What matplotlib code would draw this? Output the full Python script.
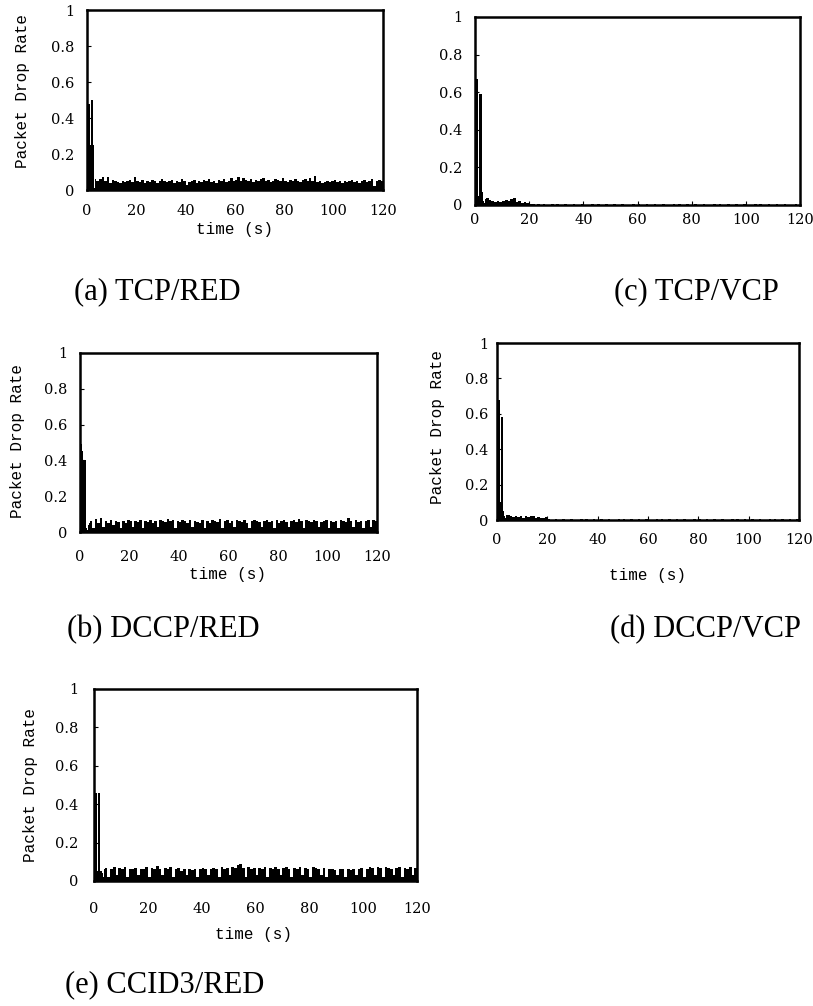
import numpy as np
import matplotlib
matplotlib.use("Agg")
import matplotlib.pyplot as plt

# time grid: finer steps during the start-up burst, then one value per second
t_head = [0, 0.4, 0.8, 1.2, 1.6, 2.0, 2.4, 2.8, 3.2, 3.6]
t_body = list(range(4, 120))

# (a) TCP/RED
tcp_red_head = [0.25, 0.48, 0.48, 0.25, 0.50, 0.50, 0.25, 0.01, 0.06, 0.05]
tcp_red_body = [
    0.05, 0.06, 0.075, 0.05, 0.07, 0.04, 0.055, 0.05, 0.045, 0.04,
    0.05, 0.045, 0.05, 0.055, 0.045, 0.07, 0.05, 0.045, 0.055, 0.04,
    0.05, 0.045, 0.055, 0.05, 0.04, 0.05, 0.06, 0.05, 0.045, 0.05,
    0.055, 0.04, 0.05, 0.045, 0.06, 0.05, 0.03, 0.045, 0.05, 0.055,
    0.04, 0.05, 0.045, 0.055, 0.05, 0.06, 0.045, 0.05, 0.04, 0.055,
    0.05, 0.06, 0.045, 0.05, 0.065, 0.05, 0.055, 0.07, 0.05, 0.065,
    0.055, 0.05, 0.06, 0.045, 0.055, 0.05, 0.06, 0.065, 0.05, 0.055,
    0.045, 0.05, 0.06, 0.055, 0.05, 0.065, 0.05, 0.045, 0.055, 0.05,
    0.06, 0.05, 0.045, 0.055, 0.06, 0.05, 0.065, 0.05, 0.08, 0.045,
    0.05, 0.04, 0.045, 0.05, 0.045, 0.05, 0.055, 0.045, 0.05, 0.04,
    0.05, 0.045, 0.05, 0.055, 0.045, 0.05, 0.04, 0.05, 0.055, 0.045,
    0.05, 0.06, 0.02, 0.05, 0.055, 0.05]

# (b) DCCP/RED
dccp_red_head = [0.49, 0.49, 0.45, 0.40, 0.40, 0.40, 0.02, 0.01, 0.04, 0.05]
dccp_red_body = [
    0.06, 0.02, 0.07, 0.05, 0.08, 0.03, 0.06, 0.05, 0.065, 0.04,
    0.06, 0.055, 0.02, 0.06, 0.05, 0.065, 0.06, 0.03, 0.06, 0.055,
    0.065, 0.02, 0.06, 0.055, 0.065, 0.05, 0.06, 0.03, 0.065, 0.06,
    0.055, 0.07, 0.06, 0.065, 0.02, 0.06, 0.055, 0.065, 0.06, 0.05,
    0.065, 0.03, 0.06, 0.055, 0.05, 0.065, 0.02, 0.06, 0.05, 0.065,
    0.06, 0.055, 0.07, 0.02, 0.06, 0.065, 0.05, 0.06, 0.03, 0.065,
    0.06, 0.055, 0.065, 0.05, 0.02, 0.06, 0.065, 0.06, 0.055, 0.03,
    0.06, 0.065, 0.055, 0.06, 0.02, 0.065, 0.05, 0.06, 0.065, 0.055,
    0.03, 0.06, 0.065, 0.055, 0.07, 0.06, 0.02, 0.065, 0.06, 0.055,
    0.065, 0.06, 0.03, 0.055, 0.06, 0.065, 0.02, 0.06, 0.055, 0.06,
    0.02, 0.065, 0.06, 0.055, 0.08, 0.06, 0.03, 0.065, 0.055, 0.06,
    0.02, 0.06, 0.065, 0.03, 0.065, 0.06]

# (c) TCP/VCP
tcp_vcp_head = [0.67, 0.67, 0.67, 0.05, 0.59, 0.59, 0.07, 0.02, 0.01, 0.03]
tcp_vcp_body = [
    0.035, 0.025, 0.02, 0.015, 0.02, 0.015, 0.02, 0.025, 0.02, 0.03,
    0.035, 0.015, 0.02, 0.01, 0.015, 0.01, 0.004, 0.003, 0.002, 0.003,
    0.002, 0.003, 0.002, 0.002, 0.003, 0.002, 0.003, 0.002, 0.002, 0.003,
    0.002, 0.002, 0.003, 0.002, 0.002, 0.003, 0.002, 0.002, 0.002, 0.003,
    0.002, 0.003, 0.002, 0.002, 0.003, 0.002, 0.002, 0.003, 0.002, 0.002,
    0.003, 0.002, 0.002, 0.002, 0.003, 0.002, 0.003, 0.002, 0.002, 0.003,
    0.002, 0.002, 0.003, 0.002, 0.002, 0.003, 0.002, 0.002, 0.002, 0.003,
    0.002, 0.003, 0.002, 0.002, 0.003, 0.002, 0.002, 0.003, 0.002, 0.002,
    0.003, 0.002, 0.002, 0.002, 0.003, 0.002, 0.003, 0.002, 0.002, 0.003,
    0.002, 0.002, 0.003, 0.002, 0.002, 0.003, 0.002, 0.002, 0.002, 0.003,
    0.002, 0.003, 0.002, 0.002, 0.003, 0.002, 0.002, 0.003, 0.002, 0.002,
    0.003, 0.002, 0.002, 0.002, 0.003, 0.002]

# (d) DCCP/VCP
dccp_vcp_head = [0.50, 0.68, 0.68, 0.10, 0.58, 0.58, 0.05, 0.02, 0.01, 0.03]
dccp_vcp_body = [
    0.03, 0.025, 0.015, 0.02, 0.015, 0.02, 0.01, 0.02, 0.015, 0.02,
    0.025, 0.01, 0.015, 0.01, 0.01, 0.015, 0.003, 0.002, 0.002, 0.003,
    0.002, 0.002, 0.003, 0.002, 0.002, 0.003, 0.002, 0.002, 0.002, 0.003,
    0.002, 0.003, 0.002, 0.002, 0.003, 0.002, 0.002, 0.003, 0.002, 0.002,
    0.003, 0.002, 0.002, 0.002, 0.003, 0.002, 0.003, 0.002, 0.002, 0.003,
    0.002, 0.002, 0.003, 0.002, 0.002, 0.003, 0.002, 0.002, 0.002, 0.003,
    0.002, 0.003, 0.002, 0.002, 0.003, 0.002, 0.002, 0.003, 0.002, 0.002,
    0.003, 0.002, 0.002, 0.002, 0.003, 0.002, 0.003, 0.002, 0.002, 0.003,
    0.002, 0.002, 0.003, 0.002, 0.002, 0.003, 0.002, 0.002, 0.002, 0.003,
    0.002, 0.003, 0.002, 0.002, 0.003, 0.002, 0.002, 0.003, 0.002, 0.002,
    0.003, 0.002, 0.002, 0.002, 0.003, 0.002, 0.003, 0.002, 0.002, 0.003,
    0.002, 0.002, 0.003, 0.002, 0.002, 0.003]

# (e) CCID3/RED
ccid3_red_head = [0.46, 0.46, 0.46, 0.05, 0.46, 0.46, 0.05, 0.04, 0.02, 0.06]
ccid3_red_body = [
    0.07, 0.02, 0.065, 0.075, 0.03, 0.07, 0.06, 0.075, 0.02, 0.065,
    0.06, 0.07, 0.03, 0.065, 0.06, 0.075, 0.02, 0.07, 0.065, 0.08,
    0.06, 0.03, 0.07, 0.065, 0.075, 0.02, 0.06, 0.07, 0.05, 0.065,
    0.03, 0.06, 0.055, 0.065, 0.02, 0.06, 0.07, 0.065, 0.03, 0.06,
    0.07, 0.065, 0.02, 0.075, 0.06, 0.07, 0.03, 0.075, 0.07, 0.085,
    0.09, 0.07, 0.02, 0.075, 0.065, 0.07, 0.03, 0.07, 0.065, 0.075,
    0.02, 0.07, 0.065, 0.075, 0.06, 0.03, 0.07, 0.075, 0.065, 0.02,
    0.07, 0.065, 0.075, 0.03, 0.07, 0.065, 0.02, 0.075, 0.07, 0.065,
    0.03, 0.07, 0.02, 0.06, 0.065, 0.055, 0.03, 0.06, 0.065, 0.02,
    0.06, 0.055, 0.065, 0.03, 0.06, 0.07, 0.02, 0.065, 0.075, 0.07,
    0.03, 0.075, 0.07, 0.02, 0.075, 0.07, 0.065, 0.03, 0.07, 0.075,
    0.02, 0.07, 0.065, 0.075, 0.03, 0.07]

x_ticks = [0, 20, 40, 60, 80, 100, 120]
y_ticks = [0, 0.2, 0.4, 0.6, 0.8, 1]
y_tick_labels = ["0", "0.2", "0.4", "0.6", "0.8", "1"]
captions = ["(a) TCP/RED", "(b) DCCP/RED", "(c) TCP/VCP", "(d) DCCP/VCP", "(e) CCID3/RED"]

W, H = 813, 1006
fig = plt.figure(figsize=(W / 100, H / 100), dpi=100)


def panel(box, head, body, ylab, xlab, ypad, xpad, ylab_xy, xlab_xy):
    left, top, right, bottom = box
    ax = fig.add_axes([left / W, 1 - bottom / H, (right - left) / W, (bottom - top) / H])
    t = np.array(t_head + t_body + [120], dtype=float)
    v = np.array(head + body, dtype=float)
    ax.bar(t[:-1], v, width=np.diff(t), align="edge", color="black", linewidth=0)
    ax.set_xlim(0, 120)
    ax.set_ylim(0, 1)
    ax.set_xticks(x_ticks)
    ax.set_xticklabels([str(x) for x in x_ticks], family="DejaVu Serif", fontsize=10.5)
    ax.set_yticks(y_ticks)
    ax.set_yticklabels(y_tick_labels, family="DejaVu Serif", fontsize=10.5)
    ax.tick_params(axis="x", direction="in", length=3, width=0.8, pad=xpad)
    ax.tick_params(axis="y", direction="in", length=3, width=0.8, pad=ypad)
    for s in ax.spines.values():
        s.set_linewidth(1.8)
    if ylab:
        ax.set_ylabel("Packet Drop Rate", family="Liberation Mono", fontsize=11.5)
        ax.yaxis.set_label_coords(*ylab_xy)
    if xlab:
        ax.set_xlabel("time (s)", family="Liberation Mono", fontsize=11.5)
        ax.xaxis.set_label_coords(*xlab_xy)
    return ax


# boxes are left, top, right, bottom of each frame
panel((87, 10, 383, 190), tcp_red_head, tcp_red_body, True, True, 9, 10,
      (-0.193, 0.55), (0.497, -0.178))
panel((80, 353, 377, 532), dccp_red_head, dccp_red_body, True, True, 9, 13,
      (-0.185, 0.51), (0.495, -0.196))
panel((475, 17, 800, 205), tcp_vcp_head, tcp_vcp_body, False, False, 9, 6,
      None, None)
panel((497, 343, 799, 520), dccp_vcp_head, dccp_vcp_body, True, True, 6, 9,
      (-0.172, 0.525), (0.497, -0.27))
panel((94, 689, 417, 881), ccid3_red_head, ccid3_red_body, True, True, 11, 15,
      (-0.173, 0.5), (0.495, -0.24))

cap_xy = [(157, 292), (163, 630), (696, 292), (705, 630), (165, 985)]
for c, (cx, cy) in zip(captions, cap_xy):
    fig.text(cx / W, 1 - cy / H, c, family="Liberation Serif", fontsize=22,
             ha="center", va="center")

fig.savefig("out.png", dpi=100)
